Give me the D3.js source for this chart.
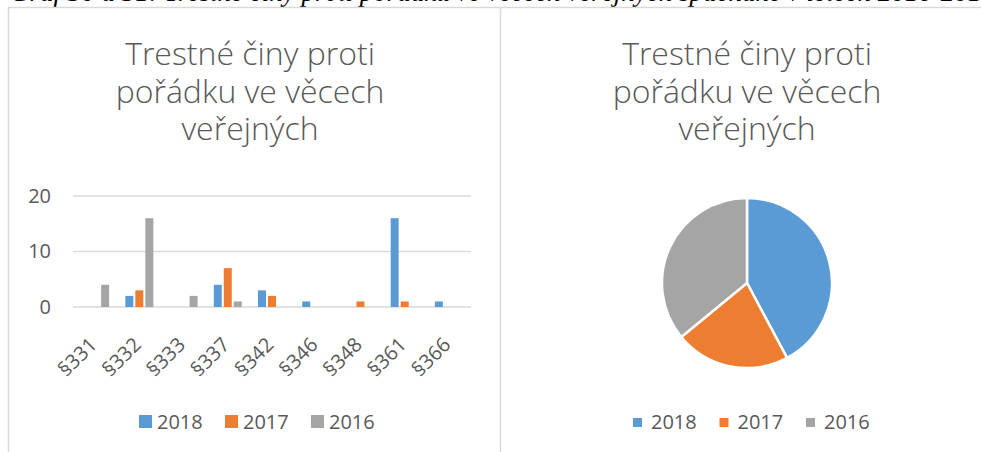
<!DOCTYPE html>
<html>
<head>
<meta charset="utf-8">
<script src="https://cdn.jsdelivr.net/npm/d3@7"></script>
<style>
	body { margin: 0; background: #fff; }
	svg { display: block; }
	text { font-family: "Open Sans", "Noto Sans", sans-serif; fill: #595959; }
</style>
</head>
<body>
<div id="chart"></div>
<script>
// data
const categories = ["§331", "§332", "§333", "§337", "§342", "§346", "§348", "§361", "§366"];
const years = ["2018", "2017", "2016"];
const values2018 = [0, 2, 0, 4, 3, 1, 0, 16, 1];
const values2017 = [0, 3, 0, 7, 2, 0, 1, 1, 0];
const values2016 = [4, 16, 2, 1, 0, 0, 0, 0, 0];
const yTicks = [0, 10, 20];
const titleLines = ["Trestné činy proti", "pořádku ve věcech", "veřejných"];
const caption = "Graf 30 a 31: Trestné činy proti pořádku ve věcech veřejných spáchané v letech 2016-2018";

const colors = { "2018": "#5b9bd5", "2017": "#ed7d31", "2016": "#a5a5a5" };
const series = { "2018": values2018, "2017": values2017, "2016": values2016 };

let width = 981;
let height = 452;

let svg = d3.select("#chart")
	.append("svg")
	.attr("width", width)
	.attr("height", height);

// caption, mostly cut off at the top of the page
svg.append("text")
	.attr("x", 10)
	.attr("y", 1)
	.style("font-family", "'Liberation Serif', serif")
	.style("font-style", "italic")
	.style("font-size", "27px")
	.style("fill", "#000")
	.text(caption);

// chart frames
svg.append("path")
	.attr("d", "M8.5,452 V7.5 H981 M500.5,7.5 V452")
	.attr("fill", "none")
	.attr("stroke", "#d9d9d9")
	.attr("stroke-width", 1.5);

function drawTitle(cx) {
	svg.append("g")
		.selectAll("text")
		.data(titleLines)
		.enter()
		.append("text")
		.attr("x", cx)
		.attr("y", (d, i) => 65 + i * 37.5)
		.attr("text-anchor", "middle")
		.style("font-size", "32px")
		.style("font-weight", 300)
		.text(d => d);
}

// ---- bar chart ----
drawTitle(250);

let xScale = d3.scaleBand()
	.domain(categories)
	.range([73, 471]);

let inner = d3.scaleBand()
	.domain(years)
	.range([-14, 14])
	.paddingInner(0.2);

let yScale = d3.scaleLinear()
	.domain([0, 20])
	.range([307, 196]);

// gridlines
svg.append("g")
	.selectAll("line")
	.data(yTicks)
	.enter()
	.append("line")
	.attr("x1", 73)
	.attr("x2", 471)
	.attr("y1", d => yScale(d))
	.attr("y2", d => yScale(d))
	.attr("stroke", "#d9d9d9")
	.attr("stroke-width", 1.5);

// y axis labels
let yAxis = svg.append("g")
	.attr("transform", "translate(51,0)")
	.call(d3.axisLeft(yScale).tickValues(yTicks).tickSize(0).tickPadding(0));
yAxis.select(".domain").remove();
yAxis.selectAll("text")
	.style("font-family", "'Open Sans', sans-serif")
	.style("font-size", "20px")
	.attr("fill", "#595959");

// bars
years.forEach(function (yr) {
	svg.append("g")
		.selectAll("rect")
		.data(categories.map((c, i) => ({ cat: c, v: series[yr][i] })))
		.enter()
		.append("rect")
		.attr("x", d => xScale(d.cat) + xScale.bandwidth() / 2 + inner(yr))
		.attr("y", d => yScale(d.v))
		.attr("width", inner.bandwidth())
		.attr("height", d => yScale(0) - yScale(d.v))
		.attr("fill", colors[yr]);
});

// x labels
svg.append("g")
	.selectAll("text")
	.data(categories)
	.enter()
	.append("text")
	.attr("transform", d => "translate(" + (xScale(d) + xScale.bandwidth() / 2 - 2) + ",341) rotate(-45)")
	.attr("text-anchor", "end")
	.attr("dy", "0.35em")
	.style("font-size", "20px")
	.text(d => d);

// legend (bar)
let legend1 = svg.append("g");
years.forEach(function (yr, i) {
	let lx = 139 + i * 86;
	legend1.append("rect")
		.attr("x", lx)
		.attr("y", 415)
		.attr("width", 13)
		.attr("height", 13)
		.attr("fill", colors[yr]);
	legend1.append("text")
		.attr("x", lx + 18)
		.attr("y", 429)
		.style("font-size", "20px")
		.text(yr);
});

// ---- pie chart ----
drawTitle(747);

let totals = years.map(yr => ({ year: yr, total: d3.sum(series[yr]) }));

let pie = d3.pie()
	.sort(null)
	.value(d => d.total);

let arc = d3.arc()
	.innerRadius(0)
	.outerRadius(85);

svg.append("g")
	.attr("transform", "translate(747,283)")
	.selectAll("path")
	.data(pie(totals))
	.enter()
	.append("path")
	.attr("d", arc)
	.attr("fill", d => colors[d.data.year])
	.attr("stroke", "#fff")
	.attr("stroke-width", 2.5);

// legend (pie)
let legend2 = svg.append("g");
years.forEach(function (yr, i) {
	let lx = 633 + i * 86.5;
	legend2.append("rect")
		.attr("x", lx)
		.attr("y", 418)
		.attr("width", 9)
		.attr("height", 9)
		.attr("fill", colors[yr]);
	legend2.append("text")
		.attr("x", lx + 18)
		.attr("y", 429)
		.style("font-size", "20px")
		.text(yr);
});
</script>
</body>
</html>
